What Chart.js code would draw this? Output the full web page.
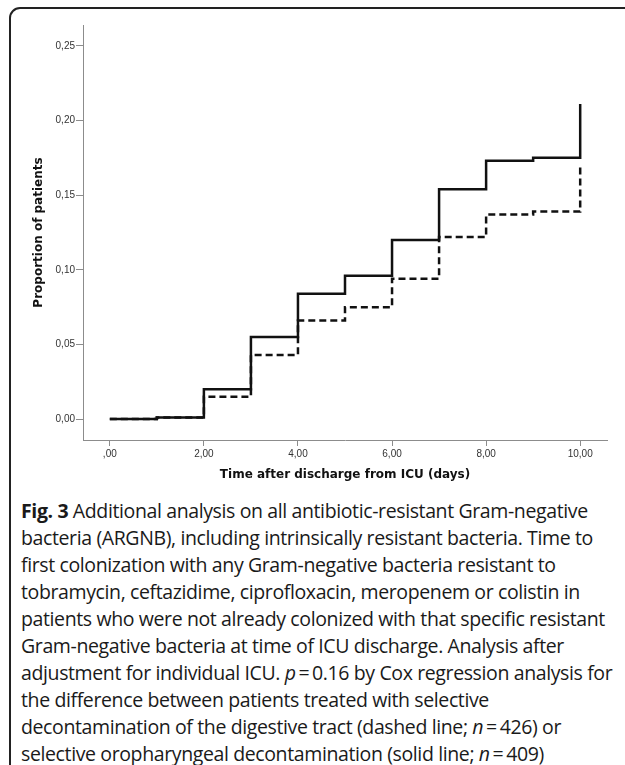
<!DOCTYPE html>
<html>
<head>
<meta charset="utf-8">
<script src="https://cdn.jsdelivr.net/npm/chart.js@4.4.1/dist/chart.umd.min.js"></script>
<style>
  html, body { margin: 0; padding: 0; background: #fff; }
  body { width: 625px; height: 765px; overflow: hidden; position: relative; }
  .frame {
    position: absolute; left: 9px; top: 7px; right: -20px; bottom: -20px;
    border: 2px solid #222; border-radius: 11px 0 0 0;
  }
  .plot { position: absolute; left: 0; top: 0; width: 625px; height: 490px; }
  .caption {
    position: absolute; left: 21px; top: 497px;
    font-family: "Open Sans", sans-serif; font-size: 19.5px; line-height: 27px;
    color: #1a1a1a; white-space: nowrap; letter-spacing: -0.38px;
  }
  .caption b { font-weight: 700; }
</style>
</head>
<body>
<div class="frame"></div>
<div class="plot"><canvas id="kmChart"></canvas></div>
<div class="caption">
<b>Fig. 3</b> Additional analysis on all antibiotic-resistant Gram-negative<br>
bacteria (ARGNB), including intrinsically resistant bacteria. Time to<br>
first colonization with any Gram-negative bacteria resistant to<br>
tobramycin, ceftazidime, ciprofloxacin, meropenem or colistin in<br>
patients who were not already colonized with that specific resistant<br>
Gram-negative bacteria at time of ICU discharge. Analysis after<br>
adjustment for individual ICU. <i>p</i>&#8201;=&#8201;0.16 by Cox regression analysis for<br>
the difference between patients treated with selective<br>
decontamination of the digestive tract (dashed line; <i>n</i>&#8201;=&#8201;426) or<br>
selective oropharyngeal decontamination (solid line; <i>n</i>&#8201;=&#8201;409)
</div>
<script>
// ======================= DATA =======================
const days = [0, 1, 2, 3, 4, 5, 6, 7, 8, 9, 10];
const sodSolid = [0, 0.001, 0.020, 0.055, 0.084, 0.096, 0.120, 0.154, 0.173, 0.175, 0.211];
const sddDashed = [0, 0.001, 0.015, 0.043, 0.066, 0.075, 0.094, 0.122, 0.137, 0.139, 0.169];
const xTicks = [0, 2, 4, 6, 8, 10];
const yTicks = [0, 0.05, 0.10, 0.15, 0.20, 0.25];

const axisColor = '#8c8c8c';
const tickFont = { family: 'Liberation Sans, Arial, sans-serif', size: 10 };
const titleFont = { family: 'DejaVu Sans, Verdana, sans-serif', size: 12, weight: 'bold' };

// comma decimals, SPSS style (",00" for zero on the x axis)
function commaLabel(value, dropZero) {
  const s = value.toFixed(2).replace('.', ',');
  return dropZero && value === 0 ? s.slice(1) : s;
}

function toPoints(values) {
  return days.map((d, i) => ({ x: d, y: values[i] }));
}

const ctx = document.getElementById('kmChart');
new Chart(ctx, {
  type: 'line',
  data: {
    datasets: [
      {
        label: 'SDD',
        data: toPoints(sddDashed),
        borderColor: '#111',
        borderWidth: 2.5,
        borderDash: [7, 4],
        stepped: true,
        pointRadius: 0,
        fill: false
      },
      {
        label: 'SOD',
        data: toPoints(sodSolid),
        borderColor: '#111',
        borderWidth: 2.5,
        stepped: true,
        pointRadius: 0,
        fill: false
      }
    ]
  },
  options: {
    responsive: true,
    maintainAspectRatio: false,
    animation: false,
    layout: { padding: { top: 25, right: 18, left: 0, bottom: 0 } },
    plugins: {
      legend: { display: false },
      tooltip: { enabled: false }
    },
    scales: {
      x: {
        type: 'linear',
        min: -0.57,
        max: 10.57,
        afterBuildTicks: (scale) => { scale.ticks = xTicks.map(v => ({ value: v })); },
        afterFit: (scale) => { scale.height = 50; },
        border: { display: true, color: axisColor, width: 1 },
        grid: { drawOnChartArea: false, drawTicks: true, tickLength: 6, color: axisColor },
        ticks: {
          color: '#333',
          font: tickFont,
          padding: 2,
          maxRotation: 0,
          callback: (v) => commaLabel(v, true)
        },
        title: {
          display: true,
          text: 'Time after discharge from ICU (days)',
          color: '#111',
          font: titleFont,
          padding: { top: 0, bottom: 8 }
        }
      },
      y: {
        type: 'linear',
        min: -0.014,
        max: 0.264,
        afterBuildTicks: (scale) => { scale.ticks = yTicks.map(v => ({ value: v })); },
        afterFit: (scale) => { scale.width = 83; },
        border: { display: true, color: axisColor, width: 1 },
        grid: { drawOnChartArea: false, drawTicks: true, tickLength: 7, color: axisColor },
        ticks: {
          color: '#333',
          font: tickFont,
          padding: 1,
          callback: (v) => commaLabel(v, false)
        },
        title: {
          display: true,
          text: 'Proportion of patients',
          color: '#111',
          font: titleFont,
          padding: { top: 32, bottom: 0 }
        }
      }
    }
  }
});
</script>
</body>
</html>
